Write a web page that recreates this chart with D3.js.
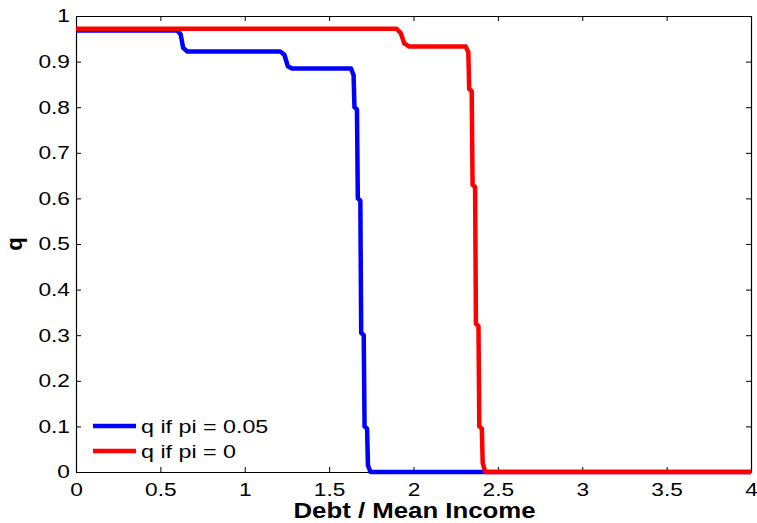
<!DOCTYPE html>
<html>
<head>
<meta charset="utf-8">
<script src="https://cdn.jsdelivr.net/npm/d3@7"></script>
<style>
  body { margin: 0; background: #fff; }
  svg text { font-family: "Liberation Sans", Arial, sans-serif; }
</style>
</head>
<body>
<div id="chart"></div>
<script>
// q if pi = 0.05 (blue)
var blue_x = [0, 0.60, 0.62, 0.635, 0.66, 1.21, 1.235, 1.255, 1.28, 1.63, 1.645, 1.65, 1.665, 1.67, 1.685, 1.69, 1.705, 1.71, 1.725, 1.73, 1.745, 4];
var blue_q = [0.968, 0.968, 0.96, 0.93, 0.922, 0.922, 0.915, 0.89, 0.885, 0.885, 0.87, 0.80, 0.795, 0.60, 0.595, 0.305, 0.30, 0.10, 0.095, 0.015, 0, 0];

// q if pi = 0 (red)
var red_x = [0, 1.90, 1.925, 1.945, 1.975, 2.31, 2.325, 2.33, 2.345, 2.35, 2.365, 2.37, 2.385, 2.39, 2.405, 2.41, 2.425, 4];
var red_q = [0.972, 0.972, 0.962, 0.94, 0.933, 0.933, 0.92, 0.84, 0.835, 0.63, 0.625, 0.325, 0.32, 0.10, 0.095, 0.02, 0, 0];

var x_ticks = [0, 0.5, 1, 1.5, 2, 2.5, 3, 3.5, 4];
var y_ticks = [0, 0.1, 0.2, 0.3, 0.4, 0.5, 0.6, 0.7, 0.8, 0.9, 1];

var series = [
    { name: 'q if pi = 0.05', color: '#0000ff', xs: blue_x, ys: blue_q },
    { name: 'q if pi = 0', color: '#ff0000', xs: red_x, ys: red_q }
];

var width = 757, height = 523;
var margin = { top: 16, right: 6, bottom: 51, left: 76 };
var plot_w = width - margin.left - margin.right;
var plot_h = height - margin.top - margin.bottom;

// the original text is rendered a bit wider than Liberation Sans
var stretch = 1.22;

var svg = d3.select('#chart')
    .append('svg')
    .attr('width', width)
    .attr('height', height);

var g = svg.append('g')
    .attr('transform', `translate(${margin.left}, ${margin.top})`);

var x = d3.scaleLinear().domain([0, 4]).range([0, plot_w]);
var y = d3.scaleLinear().domain([0, 1]).range([plot_h, 0]);

// axes, ticks pointing inwards like matlab
var fmt = function(d) { return d3.format('')(+d.toFixed(2)); };

var x_axis = g.append('g')
    .attr('transform', `translate(0, ${plot_h})`)
    .call(d3.axisBottom(x).tickValues(x_ticks).tickSizeInner(-5).tickSizeOuter(0).tickPadding(11).tickFormat(fmt));
var x_top = g.append('g')
    .call(d3.axisTop(x).tickValues(x_ticks).tickSizeInner(-5).tickSizeOuter(0).tickFormat(''));
var y_axis = g.append('g')
    .call(d3.axisLeft(y).tickValues(y_ticks).tickSizeInner(-5).tickSizeOuter(0).tickPadding(5).tickFormat(fmt));
var y_right = g.append('g')
    .attr('transform', `translate(${plot_w}, 0)`)
    .call(d3.axisRight(y).tickValues(y_ticks).tickSizeInner(-5).tickSizeOuter(0).tickFormat(''));

[x_axis, x_top, y_axis, y_right].forEach(function(a) {
    a.selectAll('path').attr('stroke', '#000').attr('stroke-width', 1.2);
    a.selectAll('line').attr('stroke', '#000').attr('stroke-width', 1);
    a.selectAll('text').style('font-size', '18.6px').attr('fill', '#000')
        .style('font-family', '"Liberation Sans", Arial, sans-serif')
        .attr('transform', `scale(${stretch}, 1)`);
});

var line = d3.line()
    .x(function(d) { return x(d[0]); })
    .y(function(d) { return y(d[1]); });

series.forEach(function(s) {
    var pts = s.xs.map(function(v, i) { return [v, s.ys[i]]; });
    g.append('path')
        .datum(pts)
        .attr('fill', 'none')
        .attr('stroke', s.color)
        .attr('stroke-width', 4.5)
        .attr('stroke-linejoin', 'round')
        .attr('d', line);
});

// legend
var legend = g.append('g')
    .attr('transform', `translate(${93 - margin.left}, ${426 - margin.top})`);
series.forEach(function(s, i) {
    legend.append('line')
        .attr('x1', 0).attr('x2', 43)
        .attr('y1', i * 25).attr('y2', i * 25)
        .attr('stroke', s.color)
        .attr('stroke-width', 4.5);
    legend.append('text')
        .attr('transform', `translate(48, ${i * 25 + 6.5}) scale(1.25, 1)`)
        .style('font-size', '18.6px')
        .text(s.name);
});

// axis labels
svg.append('text')
    .attr('transform', `translate(${margin.left + plot_w / 2 + 1}, 518) scale(1.2, 1)`)
    .attr('text-anchor', 'middle')
    .style('font-weight', 700)
    .style('font-size', '21.5px')
    .text('Debt / Mean Income');

svg.append('text')
    .attr('transform', `translate(22, ${margin.top + plot_h / 2}) rotate(-90)`)
    .attr('text-anchor', 'middle')
    .style('font-weight', 700)
    .style('font-size', '22px')
    .text('q');
</script>
</body>
</html>
